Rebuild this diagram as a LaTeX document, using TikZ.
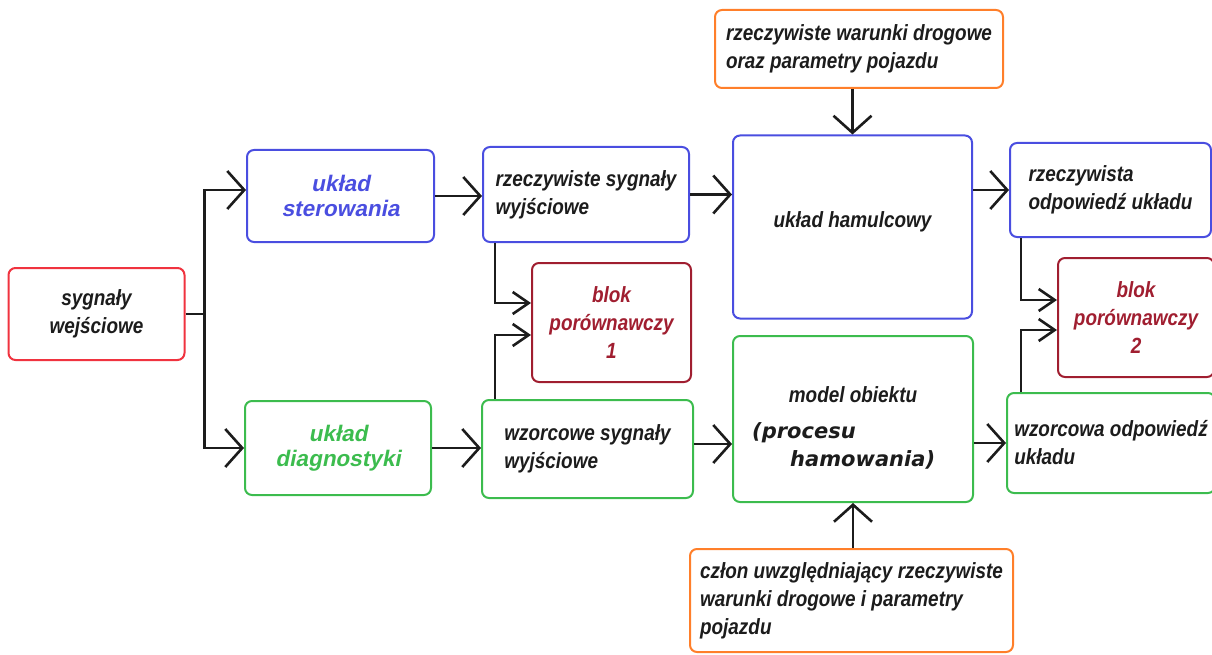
\documentclass[tikz,border=0pt]{standalone}
\usepackage{fontspec}
\setmainfont{Liberation Sans}
\newfontfamily\condfont{Liberation Sans}[FakeStretch=0.86]
\newfontfamily\titlefont{Liberation Sans}[FakeSlant=0.2]
\newfontfamily\procfont{DejaVu Sans}
\usetikzlibrary{arrows.meta,positioning,calc}

\definecolor{wejred}{HTML}{F0333F}
\definecolor{sterblue}{HTML}{4A4EE0}
\definecolor{diaggreen}{HTML}{3CBC4E}
\definecolor{blokred}{HTML}{A01E30}
\definecolor{warorange}{HTML}{FF7F2A}
\definecolor{txtgray}{HTML}{1C1C1C}

\begin{document}
\begin{tikzpicture}[
  x=1pt, y=-1pt,
  >={Straight Barb[length=17pt,width=38pt]},
  box/.style={draw, line width=2pt, rounded corners=7pt, inner sep=0pt, align=center,
    text=txtgray, font=\condfont\bfseries\itshape\fontsize{22}{28}\selectfont},
  lbox/.style={box, align=left},
  titletext/.style={font=\titlefont\bfseries\fontsize{22.5}{25}\selectfont},
  proc/.style={text=txtgray, inner sep=0pt, font=\procfont\bfseries\itshape\fontsize{21}{25}\selectfont},
  conn/.style={line width=2.6pt, draw=txtgray},
  small/.style={-{Straight Barb[length=16pt,width=22pt]}}
]
\useasboundingbox (0,0) rectangle (1212,655);

% left part
\node[box, draw=wejred, minimum width=176, minimum height=92] (in) at (96.5,314) {sygnały\\wejściowe};
\node[box, draw=sterblue, text=sterblue, titletext, minimum width=187, minimum height=92] (ster) at (340.5,196) {układ\\sterowania};
\node[box, draw=diaggreen, text=diaggreen, titletext, minimum width=186, minimum height=94] (diag) at (338,448) {układ\\diagnostyki};

% output signals and first comparator
\node[lbox, draw=sterblue, minimum width=206, minimum height=95] (rzsyg) at (586,194.5) {rzeczywiste sygnały\\wyjściowe};
\node[lbox, draw=diaggreen, minimum width=211, minimum height=98] (wzsyg) at (587.5,449) {wzorcowe sygnały\\wyjściowe};
\node[box, draw=blokred, text=blokred, minimum width=159, minimum height=119] (blok1) at (611.5,322.5) {blok\\porównawczy\\1};

% brake system and model
\node[box, draw=sterblue, minimum width=239, minimum height=183] (ham) at (852.5,227) {\raisebox{14pt}{układ hamulcowy}};
\node[box, draw=diaggreen, minimum width=240, minimum height=166] (model) at (853,419) {};
\node[box, draw=none, anchor=base] (mod1) at ($(model.north)+(0,67)$) {model obiektu};
\node[proc, anchor=base west] (mod2) at (752,438) {(procesu};
\node[proc, anchor=base west] (mod3) at (790,466) {hamowania)};

\node[lbox, draw=warorange, minimum width=288, minimum height=78] (warunki) at (859,49) {rzeczywiste warunki drogowe\\oraz parametry pojazdu};
\node[lbox, draw=warorange, minimum width=323, minimum height=103] (czlon) at (851.5,600.5) {człon uwzględniający rzeczywiste\\warunki drogowe i parametry\\pojazdu};

% responses and second comparator
\node[lbox, draw=sterblue, minimum width=201, minimum height=94] (rzodp) at (1110.5,190) {rzeczywista\\odpowiedź układu};
\node[lbox, draw=diaggreen, minimum width=208, minimum height=100] (wzodp) at (1111,443) {wzorcowa odpowiedź\\układu};
\node[box, draw=blokred, text=blokred, minimum width=156, minimum height=119] (blok2) at (1136,317.5) {blok\\porównawczy\\2};

% connectors
\coordinate (split) at ($(in.east)+(19,0)$);
\coordinate (wzout) at ($(wzsyg.east)+(0,-5)$);
\draw[conn] (in.east) -- (split);
\draw[conn,->] (split) |- ($(ster.west)+(0,-6)$);
\draw[conn,->] (split) |- (diag.west);
\draw[conn,->] (ster.east) -- (ster.east -| rzsyg.west);
\draw[conn,->] (diag.east) -- (diag.east -| wzsyg.west);
\draw[conn,->] (rzsyg.east) -- (rzsyg.east -| ham.west);
\draw[conn,->] (wzout) -- (wzout -| model.west);
\draw[conn,->] (ham.east |- rzodp.west) -- (rzodp.west);
\draw[conn,->] (model.east |- wzodp.west) -- (wzodp.west);
\draw[conn,->] (ham.north |- warunki.south) -- (ham.north);
\draw[conn,->] (model.south |- czlon.north) -- (model.south);

\draw[conn,small] ($(rzsyg.south west)+(13,0)$) |- ($(blok1.west)+(0,-19.5)$);
\draw[conn,small] ($(wzsyg.north west)+(14,0)$) |- ($(blok1.west)+(0,12.5)$);
\draw[conn,small] ($(rzodp.south west)+(12,0)$) |- ($(blok2.west)+(0,-17.5)$);
\draw[conn,small] ($(wzodp.north west)+(15,0)$) |- ($(blok2.west)+(0,12.5)$);

\end{tikzpicture}
\end{document}
